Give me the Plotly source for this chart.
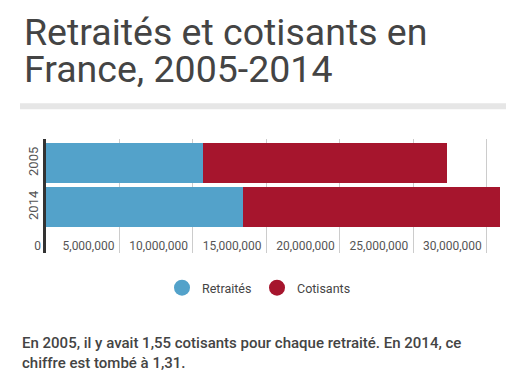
import plotly.graph_objects as go

years = ["2005", "2014"]
retraites = [10.7e6, 13.4e6]
cotisants = [16.6e6, 17.5e6]
x_ticks = [0, 5e6, 10e6, 15e6, 20e6, 25e6, 30e6]
series_names = ["Retraités", "Cotisants"]
colors = ["#53a2ca", "#a6152d"]

title_lines = ["Retraités et cotisants en", "France, 2005-2014"]
footer_lines = [
    "En 2005, il y avait 1,55 cotisants pour chaque retraité. En 2014, ce",
    "chiffre est tombé à 1,31.",
]

W, H = 527, 372
L, R, T, B = 46, 27, 139, 119
pw, ph = W - L - R, H - T - B


def px(x):
    return (x - L) / pw


def py(y):
    return (H - B - y) / ph


fig = go.Figure()
for name, vals, col in zip(series_names, [retraites, cotisants], colors):
    fig.add_trace(go.Bar(
        y=years, x=vals, name=name, orientation="h",
        marker=dict(color=col, line=dict(width=0)),
        showlegend=False, hoverinfo="x+name",
    ))
for name, col in zip(series_names, colors):
    fig.add_trace(go.Scatter(
        x=[None], y=[None], mode="markers", name=name,
        marker=dict(symbol="circle", size=16, color=col),
    ))

annotations = [
    dict(text=title_lines[0], x=px(22), y=py(31.5), xref="paper", yref="paper",
         xanchor="left", yanchor="middle", showarrow=False,
         font=dict(family="Roboto", size=37.5, color="#444444")),
    dict(text=title_lines[1], x=px(22), y=py(68.5), xref="paper", yref="paper",
         xanchor="left", yanchor="middle", showarrow=False,
         font=dict(family="Roboto", size=37.5, color="#444444")),
    dict(text=footer_lines[0], x=px(20), y=py(343), xref="paper", yref="paper",
         xanchor="left", yanchor="middle", showarrow=False,
         font=dict(family="Roboto", size=15, color="#444444", weight=500)),
    dict(text=footer_lines[1], x=px(20), y=py(363), xref="paper", yref="paper",
         xanchor="left", yanchor="middle", showarrow=False,
         font=dict(family="Roboto", size=15, color="#444444", weight=500)),
]

fig.update_layout(
    width=W, height=H,
    margin=dict(l=L, r=R, t=T, b=B, pad=0),
    paper_bgcolor="white", plot_bgcolor="white",
    barmode="stack", bargap=0.09,
    font=dict(family="Roboto", color="#555555"),
    xaxis=dict(
        range=[0, retraites[1] + cotisants[1]],
        tickvals=x_ticks, tickformat=",",
        ticklabelposition="inside left",
        ticklabeloverflow="allow",
        ticklabelstandoff=-5, ticklabelshift=-5,
        showgrid=True, gridcolor="#cccccc", gridwidth=1,
        zeroline=False, showline=False, ticks="",
        tickfont=dict(size=12, color="#555555"),
        fixedrange=True,
    ),
    yaxis=dict(
        type="category", categoryorder="array", categoryarray=years,
        range=[2.039, -0.552],
        tickangle=-90, showgrid=False, zeroline=False,
        showline=True, linecolor="#333333", linewidth=2.5, ticks="",
        tickfont=dict(size=13, color="#555555"),
        fixedrange=True,
    ),
    legend=dict(
        orientation="h", x=px(257), xanchor="center", y=py(288), yanchor="middle",
        font=dict(size=12.5, color="#444444"), itemsizing="trace",
        traceorder="normal", bgcolor="rgba(0,0,0,0)",
        entrywidth=50, entrywidthmode="pixels",
    ),
    shapes=[dict(type="rect", xref="paper", yref="paper",
                 x0=px(20), x1=px(506), y0=py(109.3), y1=py(103.3),
                 fillcolor="#e6e6e6", line=dict(width=0), layer="below")],
    annotations=annotations,
)

fig.write_html("out.html", config={"displayModeBar": False},
               post_script="document.body.style.margin='0px';")
